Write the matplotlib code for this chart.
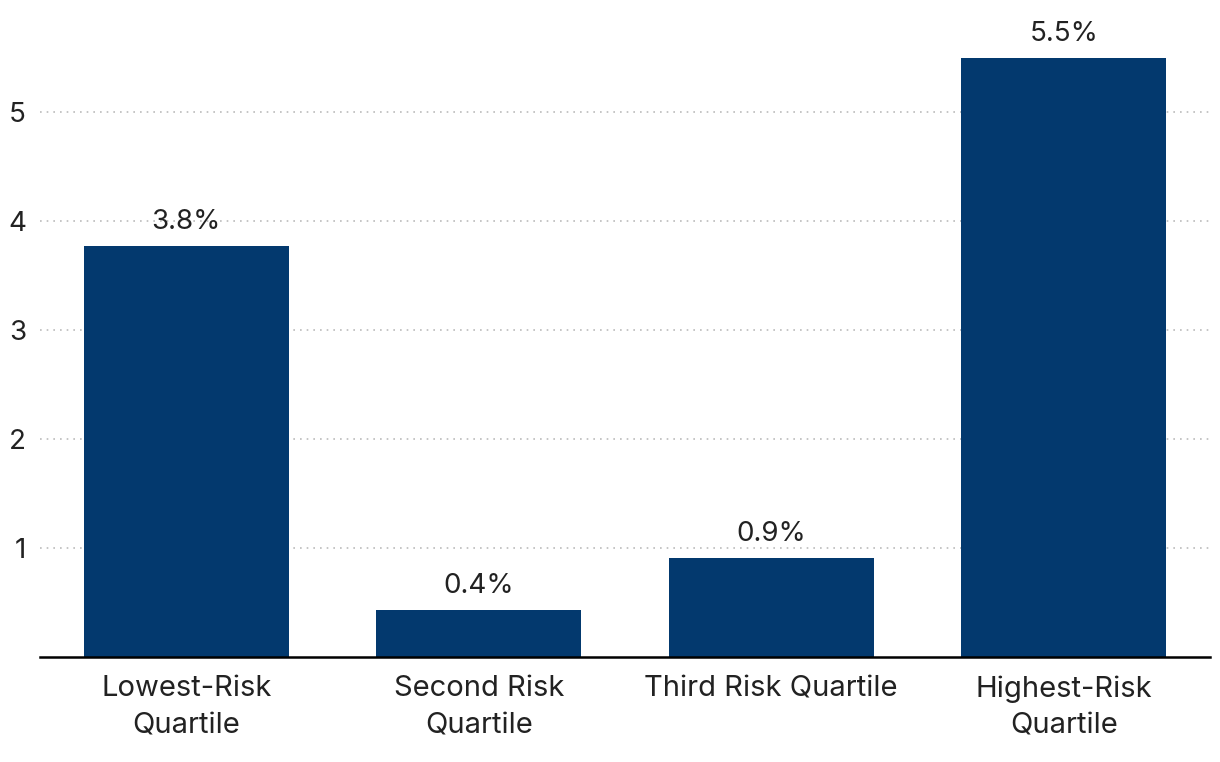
import matplotlib.pyplot as plt
import numpy as np

plt.rcParams['font.family'] = ['Inter', 'DejaVu Sans']

categories = ["Lowest-Risk\nQuartile", "Second Risk\nQuartile",
              "Third Risk Quartile", "Highest-Risk\nQuartile"]
values = [3.77, 0.43, 0.91, 5.50]
bar_color = "#03396e"

fig = plt.figure(figsize=(12.2, 7.62), dpi=100)
ax = fig.add_axes([40 / 1220, 105 / 762, 1170 / 1220, 657 / 762])

x = np.arange(len(categories))
bars = ax.bar(x, values, width=0.70, color=bar_color, zorder=3)

for b, v in zip(bars, values):
    ax.annotate(f"{v:.1f}%", (b.get_x() + b.get_width() / 2, v),
                xytext=(0, 8), textcoords="offset points",
                ha="center", va="bottom", fontsize=20, color="#222222")

ax.set_xlim(-0.5, 3.5)
ax.set_ylim(0, 6.03)
ax.set_yticks([1, 2, 3, 4, 5])
ax.set_xticks(x)
ax.set_xticklabels(categories, fontsize=21, color="#222222", linespacing=1.48)
ax.tick_params(axis="y", length=0, labelsize=20, labelcolor="#222222", pad=10)
ax.tick_params(axis="x", length=0, pad=13)
ax.grid(axis="y", linestyle=(0, (1, 3)), color="#bbbbbb", linewidth=1.2, zorder=0)

for s in ["top", "right", "left"]:
    ax.spines[s].set_visible(False)
ax.spines["bottom"].set_linewidth(1.8)
ax.spines["bottom"].set_color("black")
ax.spines["bottom"].set_zorder(4)

fig.savefig("out.png", dpi=100)
